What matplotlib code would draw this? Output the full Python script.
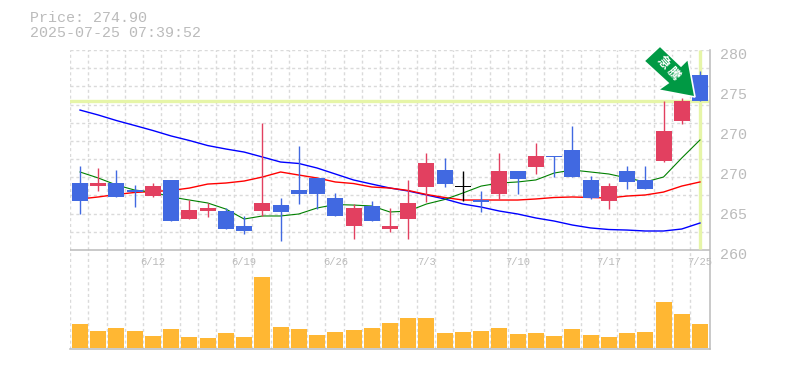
import matplotlib
matplotlib.use("Agg")
import matplotlib.pyplot as plt
from matplotlib.patches import Polygon
from matplotlib.transforms import Affine2D
import numpy as np

W, H = 785, 370
MONO = "Liberation Mono"
CJK = ["Noto Sans CJK JP", "DejaVu Sans"]

price_now = 274.90
stamp = "2025-07-25 07:39:52"
date_labels = ["6/12", "6/19", "6/26", "7/3", "7/10", "7/17", "7/25"]
date_pos = [4, 9, 14, 19, 24, 29, 34]
price_labels = ["280", "275", "270", "270", "265", "260"]
price_ticks = [279.47, 275.66, 271.85, 268.04, 264.23, 260.42]

opens = [267.09,266.80,267.09,266.42,265.85,267.38,263.66,264.42,264.42,262.99,264.42,264.99,
         266.42,267.57,265.66,262.99,264.90,262.71,263.66,266.71,268.33,266.85,265.47,266.04,
         268.23,268.61,269.66,270.23,267.38,265.38,268.23,267.38,269.19,272.99,277.38]
closes = [265.40,267.09,265.76,266.23,266.80,263.47,264.52,264.71,262.71,262.52,265.19,264.33,
          266.04,266.04,263.95,264.71,263.47,262.99,265.19,268.99,266.99,266.70,265.28,268.23,
          267.47,269.66,269.57,267.66,265.66,266.80,267.19,266.52,272.04,274.90,274.90]
highs = [268.71,268.52,268.33,266.90,267.09,267.38,265.47,265.19,264.71,263.95,272.80,265.66,
         270.61,267.57,266.14,265.09,265.38,264.71,267.38,269.95,269.47,268.23,266.33,269.95,
         268.23,270.90,269.66,272.52,267.76,267.09,268.71,268.71,274.90,275.19,277.76]
lows = [264.14,266.33,265.76,264.80,265.76,263.47,263.66,263.85,262.71,262.23,263.95,261.57,
        265.09,264.61,263.95,261.76,263.47,262.42,261.76,265.28,266.71,265.38,264.33,265.57,
        266.04,267.95,267.66,267.66,265.57,264.61,266.52,266.52,269.09,272.71,274.90]
ma_long = [274.04,273.57,273.04,272.57,272.09,271.57,271.14,270.66,270.33,270.04,269.57,269.09,
           268.95,268.52,267.95,267.38,266.99,266.61,266.33,265.95,265.57,265.09,264.80,264.42,
           264.14,263.76,263.47,263.09,262.81,262.66,262.61,262.52,262.52,262.71,263.28]
ma_mid = [265.57,265.76,266.00,266.19,266.28,266.38,266.61,266.99,267.09,267.28,267.66,268.14,
          267.85,267.57,267.19,267.04,266.71,266.61,266.38,266.00,265.71,265.47,265.47,265.47,
          265.47,265.57,265.71,265.76,265.71,265.66,265.85,265.95,266.23,266.80,267.19]
ma_short = [268.14,267.57,266.90,266.42,266.23,265.76,265.47,265.19,264.61,263.66,263.95,263.95,
            264.14,264.71,265.04,264.99,264.90,264.33,264.42,265.09,265.52,266.14,266.80,267.09,
            267.19,267.38,268.04,268.33,268.14,267.95,267.57,267.19,267.66,269.47,271.19]
volumes = [24,17,20,17,12,19,11,10,15,11,71,21,19,13,16,18,20,25,30,30,15,16,17,20,14,15,12,
           19,13,11,15,16,46,34,24]

BLUE = "#4169E1"
RED = "#E24060"
GRID = "#DADADA"
FRAME = "#BBBBBB"
TEXT = "#BBBBBB"
HILITE = "#E6F5A8"
ORANGE = "#FFB733"

x = np.arange(len(opens))
rect = [70 / W, 1 - 349 / H, 640 / W, 299 / H]
fig = plt.figure(figsize=(W / 100, H / 100), dpi=100, facecolor="white")
ax = fig.add_axes(rect)
ax.set_xlim(-0.548, 34.55)
ax.set_ylim(251.28, 279.76)
ax.patch.set_visible(False)

for s in ["top", "left"]:
    ax.spines[s].set_visible(False)
for s in ["right", "bottom"]:
    ax.spines[s].set_color(FRAME)
    ax.spines[s].set_linewidth(1.1)

# grid
dash = (0, (2.2, 2.0))
for v in x - 0.54:
    ax.axvline(v, color=GRID, lw=1.0, ls=dash, zorder=0.5)
ygrid = np.linspace(279.76, 260.71, 12)[:-1]
for v in ygrid:
    ax.axhline(v, color=GRID, lw=1.0, ls=dash, zorder=0.5)
ax.axhline(260.71, color=FRAME, lw=1.1, zorder=1)

# current price / last date highlight
ax.axhline(price_now, color=HILITE, lw=2.4, zorder=1)
ax.vlines(x[-1], 260.8, 279.76, color=HILITE, lw=2.4, zorder=1)

# candles
for i in x:
    o, c = opens[i], closes[i]
    col = "black" if i == 21 else (RED if c > o else BLUE)
    ax.vlines(i, lows[i], highs[i], color=col, lw=1.0, zorder=3)
    ax.bar(i, abs(c - o), bottom=min(o, c), width=16 / 18.235, color=col, lw=0, zorder=3)

# moving averages
ax.plot(x, ma_long, color="#0000FF", lw=1.0, zorder=2)
ax.plot(x, ma_mid, color="#FF0000", lw=1.0, zorder=2)
ax.plot(x, ma_short, color="#008000", lw=0.8, zorder=2)

# axis labels
ax.yaxis.tick_right()
ax.set_xticks(date_pos, date_labels)
ax.set_yticks(price_ticks, price_labels)
ax.tick_params(axis="y", length=0, pad=7, labelsize=10.8, labelcolor=TEXT)
ax.tick_params(axis="x", length=0, pad=-66, labelsize=7.6, labelcolor=TEXT)
for t in ax.get_xticklabels() + ax.get_yticklabels():
    t.set_fontfamily(MONO)

# volume, on its own overlay axes over the same box
vx = fig.add_axes(rect, sharex=ax)
vx.set_ylim(-1, 298)
vx.patch.set_visible(False)
for s in vx.spines.values():
    s.set_visible(False)
vx.tick_params(left=False, bottom=False, labelleft=False, labelbottom=False)
vx.bar(x, volumes, width=16 / 18.235, color=ORANGE, lw=0, zorder=3)

# header
fig.text(30 / W, 1 - 18 / H, f"Price: {price_now:.2f}", family=MONO, size=10.8,
         color=TEXT, va="center", ha="left")
fig.text(30 / W, 1 - 33 / H, stamp, family=MONO, size=10.8, color=TEXT, va="center", ha="left")

# arrow callout, placed in figure pixels
px = Affine2D().scale(1 / W, -1 / H).translate(0, 1) + fig.transFigure
arrow = [(660, 46), (681, 66), (688, 59), (695, 97), (658, 90), (668, 83), (644, 61)]
fig.add_artist(Polygon(arrow, closed=True, facecolor="#009944", edgecolor="white", lw=1.2,
                       transform=px, zorder=10))
fig.text(663.5 / W, 1 - 62.5 / H, "急", family=CJK, size=9, color="white", weight="bold",
         rotation=-48, ha="center", va="center", zorder=11)
fig.text(673 / W, 1 - 74 / H, "騰", family=CJK, size=9, color="white", weight="bold",
         rotation=-48, ha="center", va="center", zorder=11)

fig.savefig("out.png", dpi=100, facecolor="white")
